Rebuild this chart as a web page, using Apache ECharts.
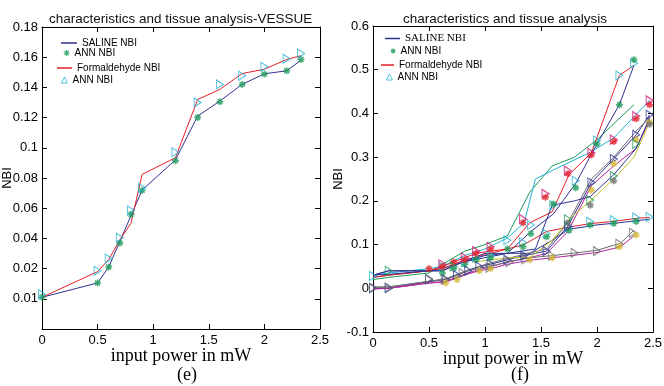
<!DOCTYPE html>
<html>
<head>
<meta charset="utf-8">
<script src="https://cdn.jsdelivr.net/npm/echarts@6/dist/echarts.min.js"></script>
<style>
  body { margin: 0; background: #fff; }
  .panel { position: absolute; top: 0; width: 332px; height: 386px; }
</style>
</head>
<body>
<div id="panelE" class="panel" style="left:0"></div>
<div id="panelF" class="panel" style="left:332px"></div>
<script>
// ---------------- panel (e): characteristics and tissue analysis-VESSUE ----------------
var e_power = [0, 0.5, 0.6, 0.7, 0.8, 0.9, 1.2, 1.4, 1.6, 1.8, 2.0, 2.2, 2.33];
var e_salineNBI = [0.001, 0.0105, 0.021, 0.038, 0.055, 0.072, 0.092, 0.121, 0.131, 0.142, 0.149, 0.151, 0.158];
var e_salineANN = [0.001, 0.0105, 0.021, 0.037, 0.056, 0.0718, 0.0914, 0.120, 0.1305, 0.142, 0.1488, 0.151, 0.1585];
var e_formNBI = [0.001, 0.018, 0.026, 0.039, 0.050, 0.0824, 0.0934, 0.132, 0.1387, 0.1492, 0.152, 0.1585, 0.161];
var e_formANN = [0.003, 0.0185, 0.0267, 0.0404, 0.0585, 0.0734, 0.0971, 0.130, 0.142, 0.1477, 0.1536, 0.159, 0.1624];

// ---------------- panel (f): characteristics and tissue analysis ----------------
// lines
var f_lineGreen = [[0,0.02],[0.14,0.025],[0.5,0.035],[0.62,0.055],[0.82,0.085],[1.0,0.1],[1.2,0.12],[1.4,0.22],[1.6,0.28],[1.8,0.3],[2.0,0.34],[2.33,0.42]];
var f_lineCyan = [[0,0.03],[0.14,0.035],[0.5,0.045],[0.62,0.05],[0.82,0.075],[1.0,0.09],[1.2,0.115],[1.35,0.15],[1.45,0.25],[1.66,0.277],[1.94,0.311],[2.15,0.344],[2.47,0.43]];
var f_lineRedHigh = [[0,0.025],[0.14,0.03],[0.5,0.04],[0.62,0.05],[0.72,0.06],[0.82,0.07],[0.92,0.08],[1.05,0.085],[1.2,0.09],[1.4,0.15],[1.6,0.175],[1.75,0.26],[1.95,0.31],[2.2,0.487],[2.33,0.51]];
var f_lineNavyHigh = [[0,0.03],[0.14,0.04],[0.5,0.04],[0.62,0.045],[0.8,0.06],[1.0,0.07],[1.2,0.08],[1.41,0.13],[1.61,0.17],[1.81,0.24],[2.0,0.33],[2.2,0.42],[2.33,0.51]];
var f_lineRedMid = [[0,0.025],[0.14,0.03],[0.5,0.04],[0.62,0.045],[0.82,0.065],[1.05,0.08],[1.2,0.09],[1.35,0.1],[1.55,0.13],[1.75,0.14],[1.94,0.148],[2.15,0.153],[2.35,0.16],[2.47,0.162]];
var f_lineNavyMid = [[0,0.03],[0.14,0.04],[0.5,0.04],[0.62,0.04],[0.8,0.06],[1.0,0.075],[1.2,0.08],[1.4,0.08],[1.6,0.11],[1.75,0.135],[2.0,0.145],[2.2,0.15],[2.47,0.158]];
var f_lineNavyTri = [[0,0.0],[0.14,0.0],[0.5,0.015],[0.65,0.02],[0.75,0.03],[0.85,0.04],[0.95,0.05],[1.05,0.055],[1.2,0.065],[1.35,0.075],[1.55,0.085],[1.74,0.142],[1.95,0.242],[2.15,0.296],[2.35,0.351],[2.47,0.397]];
var f_lineGrey = [[0,0.003],[0.14,0.003],[0.5,0.016],[0.65,0.022],[0.85,0.042],[1.05,0.058],[1.2,0.068],[1.35,0.078],[1.55,0.09],[1.74,0.15],[1.95,0.25],[2.15,0.3],[2.35,0.36],[2.47,0.39]];
var f_lineMagentaMid = [[0,0.0],[0.14,0.0],[0.5,0.012],[0.65,0.016],[0.85,0.035],[1.05,0.05],[1.2,0.06],[1.4,0.07],[1.55,0.08],[1.74,0.13],[1.95,0.235],[2.15,0.28],[2.35,0.32],[2.47,0.385]];
var f_lineOlive = [[0.9,0.06],[1.2,0.07],[1.4,0.07],[1.6,0.11],[1.76,0.16],[1.94,0.2],[2.15,0.25],[2.33,0.3],[2.47,0.38]];
var f_lineNavy2 = [[0,0.03],[0.14,0.032],[0.5,0.04],[0.62,0.04],[0.8,0.06],[1.0,0.08],[1.2,0.08],[1.45,0.09],[1.6,0.19],[1.8,0.2],[1.94,0.21],[2.15,0.26],[2.35,0.32],[2.47,0.39]];
var f_lineGreyLow = [[0,0.002],[0.14,0.003],[0.5,0.016],[0.65,0.02],[0.75,0.03],[0.85,0.04],[0.95,0.046],[1.05,0.05],[1.2,0.06],[1.4,0.07],[1.61,0.075],[1.81,0.081],[2.0,0.087],[2.21,0.103],[2.33,0.133]];
var f_lineMagentaLow = [[0,-0.002],[0.14,0.0],[0.5,0.012],[0.65,0.014],[0.75,0.024],[0.85,0.033],[0.95,0.04],[1.05,0.045],[1.2,0.055],[1.4,0.064],[1.61,0.07],[1.81,0.076],[2.0,0.082],[2.21,0.095],[2.33,0.12]];
// markers
var f_triCyan = [[0,0.028],[0.62,0.05],[0.82,0.06],[0.92,0.07],[1.05,0.075],[1.2,0.11],[1.34,0.105],[1.41,0.145],[1.55,0.125],[1.61,0.19],[1.75,0.14],[1.81,0.246],[1.94,0.152],[2.0,0.338],[2.15,0.156],[2.2,0.487],[2.33,0.515],[2.35,0.162],[2.47,0.163]];
var f_starGreen = [[0.62,0.035],[0.72,0.045],[0.82,0.055],[0.92,0.065],[1.05,0.07],[1.2,0.09],[1.34,0.095],[1.41,0.125],[1.55,0.118],[1.61,0.193],[1.75,0.133],[1.81,0.23],[1.94,0.145],[2.0,0.33],[2.15,0.149],[2.2,0.42],[2.33,0.523],[2.35,0.153]];
var f_triPink = [[0.62,0.055],[0.82,0.07],[0.92,0.085],[1.05,0.095],[1.34,0.158],[1.54,0.216],[1.74,0.269],[1.95,0.31],[2.15,0.34],[2.35,0.394],[2.47,0.43]];
var f_starRed = [[0.5,0.045],[0.62,0.05],[0.72,0.06],[0.82,0.065],[0.92,0.08],[1.05,0.09],[1.34,0.15],[1.54,0.208],[1.74,0.262],[1.95,0.305],[2.15,0.336],[2.35,0.388],[2.47,0.42]];
var f_triNavy = [[0,0.0],[0.14,0.0],[0.5,0.02],[0.65,0.02],[0.75,0.03],[0.85,0.04],[0.95,0.05],[1.05,0.055],[1.2,0.065],[1.35,0.075],[1.55,0.085],[1.74,0.142],[1.95,0.242],[2.15,0.296],[2.35,0.351],[2.47,0.397]];
var f_triGrey = [[0,0.002],[0.14,0.002],[0.5,0.022],[0.64,0.02],[0.8,0.035],[1.04,0.047],[1.22,0.06],[1.36,0.066],[1.6,0.074],[1.8,0.081],[2.0,0.085],[2.2,0.102],[2.32,0.127]];
var f_starYellow = [[0.65,0.012],[0.75,0.02],[0.95,0.04],[1.05,0.045],[1.4,0.065],[1.6,0.07],[2.2,0.095],[2.35,0.122],[1.95,0.225],[2.15,0.285],[2.35,0.34],[2.47,0.38]];
var f_triGreen = [[0.14,0.04],[0.72,0.05],[1.74,0.158],[1.94,0.202],[2.15,0.257],[2.35,0.33]];
var f_starGrey = [[1.74,0.15],[1.94,0.19],[2.15,0.246],[2.47,0.375]];

var SANS = 'Liberation Sans, Arial, sans-serif';
var SERIF = 'Liberation Serif, Times New Roman, serif';
var TRI = 'path://M0,0 L10,5 L0,10 Z';
var TRI_UP = 'path://M5,0 L10,10 L0,10 Z';
var STAR = 'path://M5,0 L5,10 M0,5 L10,5 M1.5,1.5 L8.5,8.5 M8.5,1.5 L1.5,8.5';

var C = {
    navy: '#2e3192', red: '#e41e26', green: '#1a9a58', cyan: '#22b2cf',
    pink: '#d6247e', grey: '#6d6e71', olive: '#c2c22e', magenta: '#b5259a', yellow: '#d4b830'
};

function frame(ymin, ymax, yint, yfmt, nameGap) {
    var line = { show: true, onZero: false, lineStyle: { color: '#000', width: 1 } };
    var tick = { show: true, inside: true, length: 5, lineStyle: { color: '#000' } };
    return {
        xAxis: [
            { type: 'value', min: 0, max: 2.5, interval: 0.5, axisLine: line, axisTick: tick, splitLine: { show: false },
              axisLabel: { color: '#000', fontSize: 13, fontFamily: SANS, margin: 5 },
              name: 'input power in mW', nameLocation: 'middle', nameGap: 18, nameMoveOverlap: false,
              nameTextStyle: { fontFamily: SERIF, fontSize: 18, color: '#000', verticalAlign: 'top' } },
            { type: 'value', position: 'top', min: 0, max: 2.5, interval: 0.5, axisLine: line, axisTick: tick,
              axisLabel: { show: false }, splitLine: { show: false } }
        ],
        yAxis: [
            { type: 'value', min: ymin, max: ymax, interval: yint, axisLine: line, axisTick: tick, splitLine: { show: false },
              axisLabel: { color: '#000', fontSize: 13, fontFamily: SANS, margin: 4, formatter: yfmt },
              name: 'NBI', nameLocation: 'middle', nameRotate: 90, nameGap: nameGap, nameMoveOverlap: false,
              nameTextStyle: { fontFamily: SANS, fontSize: 13, color: '#000' } },
            { type: 'value', position: 'right', min: ymin, max: ymax, interval: yint, axisLine: line, axisTick: tick,
              axisLabel: { show: false }, splitLine: { show: false } }
        ]
    };
}

function lineS(name, data, color) {
    return { name: name, type: 'line', data: data, showSymbol: false, symbol: 'none',
             lineStyle: { color: color, width: 1 }, itemStyle: { color: color }, z: 2 };
}
function markS(name, data, symbol, color, size, bw) {
    return { name: name, type: 'scatter', data: data, symbol: symbol, symbolSize: size,
             itemStyle: { color: 'rgba(0,0,0,0)', borderColor: color, borderWidth: bw }, z: 3 };
}
function leg(name, left, top, icon, w, h, style, txt) {
    return { left: left, top: top, padding: 0, orient: 'vertical', selectedMode: false,
             itemWidth: w, itemHeight: h, itemGap: 0,
             textStyle: Object.assign({ fontSize: 10, fontFamily: SANS, color: '#000' }, txt || {}),
             data: [{ name: name, icon: icon, itemStyle: style }] };
}

// ---- chart (e)
var chartE = echarts.init(document.getElementById('panelE'), null, { renderer: 'canvas' });
var pts = function (xs, ys) { return xs.map(function (x, i) { return [x, ys[i]]; }); };
var fe = frame(-0.02, 0.18, 0.02, function (v) {
    if (v < -0.001) return '';
    if (Math.abs(v) < 1e-9) return '0.01';
    return String(+v.toFixed(2));
}, 28);
chartE.setOption({
    animation: false,
    title: { text: 'characteristics and tissue analysis-VESSUE', left: 44, top: 7,
             textStyle: { fontSize: 13.5, fontWeight: 'normal', fontFamily: SANS, color: '#111' } },
    grid: { left: 42, top: 27, width: 278, height: 302, outerBoundsMode: 'none' },
    xAxis: fe.xAxis, yAxis: fe.yAxis,
    legend: [
        leg('SALINE NBI', 61, 38, 'rect', 16, 1.5, { color: C.navy, borderWidth: 0 }),
        leg('ANN NBI', 63, 48, STAR, 6, 6, { color: 'rgba(0,0,0,0)', borderColor: C.green, borderWidth: 1.2 }),
        leg('Formaldehyde NBI', 57, 63, 'rect', 15, 1.5, { color: C.red, borderWidth: 0 }),
        leg('ANN NBI', 61, 75, TRI_UP, 6, 6, { color: 'rgba(0,0,0,0)', borderColor: C.cyan, borderWidth: 1 })
    ],
    graphic: [{ type: 'text', x: 187, y: 375,
                style: { text: '(e)', font: '18px Liberation Serif', fill: '#000', align: 'center', verticalAlign: 'middle' } }],
    series: [
        lineS('SALINE NBI', pts(e_power, e_salineNBI), C.navy),
        lineS('Formaldehyde NBI', pts(e_power, e_formNBI), C.red),
        markS('ANN NBI', pts(e_power, e_salineANN), STAR, C.green, 7, 1.5),
        markS('ANN NBI', pts(e_power, e_formANN), TRI, C.cyan, [7, 9], 1)
    ]
});

// ---- chart (f)
var chartF = echarts.init(document.getElementById('panelF'), null, { renderer: 'canvas' });
var ff = frame(-0.1, 0.6, 0.1, function (v) { return String(+v.toFixed(1)); }, 28);
chartF.setOption({
    animation: false,
    title: { text: 'characteristics and tissue analysis', left: 66, top: 7,
             textStyle: { fontSize: 13.5, fontWeight: 'normal', fontFamily: SANS, color: '#111' } },
    grid: { left: 41, top: 26, width: 280, height: 306, outerBoundsMode: 'none' },
    xAxis: ff.xAxis, yAxis: ff.yAxis,
    legend: [
        leg('SALINE NBI', 53, 33, 'rect', 15, 1.5, { color: C.navy, borderWidth: 0 }, { fontFamily: SERIF, fontSize: 11 }),
        leg('ANN NBI', 58, 46, STAR, 5, 5, { color: 'rgba(0,0,0,0)', borderColor: C.green, borderWidth: 1.2 }),
        leg('Formaldehyde NBI', 49, 60, 'rect', 13, 1.5, { color: C.red, borderWidth: 0 }),
        leg('ANN NBI', 54, 72, TRI_UP, 6, 6, { color: 'rgba(0,0,0,0)', borderColor: C.cyan, borderWidth: 1 })
    ],
    graphic: [{ type: 'text', x: 188, y: 375,
                style: { text: '(f)', font: '18px Liberation Serif', fill: '#000', align: 'center', verticalAlign: 'middle' } }],
    series: [
        lineS('green run', f_lineGreen, C.green),
        lineS('cyan run', f_lineCyan, C.cyan),
        lineS('Formaldehyde NBI', f_lineRedHigh, C.red),
        lineS('SALINE NBI', f_lineNavyHigh, C.navy),
        lineS('red mid', f_lineRedMid, C.red),
        lineS('navy mid', f_lineNavyMid, C.navy),
        lineS('navy tri', f_lineNavyTri, C.navy),
        lineS('grey', f_lineGrey, C.grey),
        lineS('magenta mid', f_lineMagentaMid, C.magenta),
        lineS('olive', f_lineOlive, C.olive),
        lineS('navy 2', f_lineNavy2, C.navy),
        lineS('grey low', f_lineGreyLow, C.grey),
        lineS('magenta low', f_lineMagentaLow, C.magenta),
        markS('ANN NBI', f_triCyan, TRI, C.cyan, [7, 9], 1),
        markS('ANN NBI', f_starGreen, STAR, C.green, 7, 1.5),
        markS('pink tri', f_triPink, TRI, C.pink, [7, 9], 1.2),
        markS('red star', f_starRed, STAR, C.red, 7, 1.5),
        markS('navy tri m', f_triNavy, TRI, C.navy, [7, 9], 1),
        markS('grey tri', f_triGrey, TRI, C.grey, [7, 9], 1),
        markS('yellow star', f_starYellow, STAR, C.yellow, 7, 1.5),
        markS('green tri', f_triGreen, TRI, C.green, [7, 9], 1),
        markS('grey star', f_starGrey, STAR, C.grey, 7, 1.5)
    ]
});
</script>
</body>
</html>
